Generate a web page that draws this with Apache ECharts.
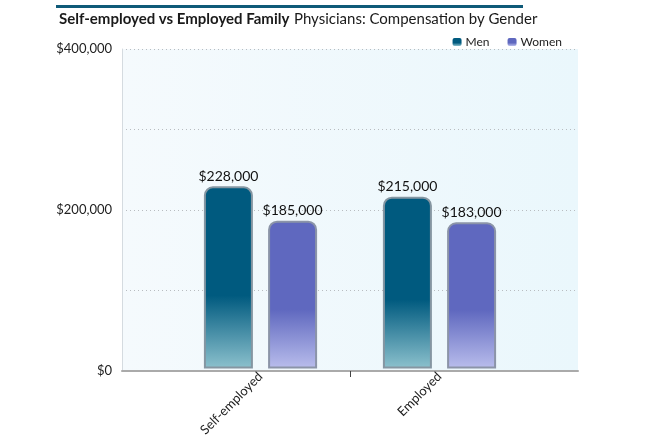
<!DOCTYPE html>
<html><head><meta charset="utf-8">
<script src="https://cdn.jsdelivr.net/npm/echarts@6/dist/echarts.min.js"></script>
<style>html,body{margin:0;padding:0;background:#fff}#c{width:645px;height:439px}</style>
</head><body><div id="c"></div>
<script>
const categories = ['Self-employed', 'Employed'];
const menValues = [228000, 215000];
const womenValues = [185000, 183000];
const yTicks = [0, 200000, 400000];
const titleBold = 'Self-employed vs Employed Family';
const titleRest = 'Physicians: Compensation by Gender';

const FONT = 'Lato';
const fmt = v => '$' + v.toLocaleString('en-US');
const chart = echarts.init(document.getElementById('c'), null, {renderer: 'canvas'});

function grad(c1, c2) {
  return new echarts.graphic.LinearGradient(0, 0, 0, 1, [
    {offset: 0, color: c1}, {offset: 0.6, color: c1}, {offset: 1, color: c2}
  ]);
}

chart.setOption({
  animation: false,
  textStyle: {fontFamily: FONT},
  title: {
    left: 59, top: 10, padding: 0,
    text: '{b|' + titleBold + '} {n|' + titleRest + '}',
    textStyle: {
      fontWeight: 'normal',
      rich: {
        b: {fontFamily: FONT, fontSize: 15, fontWeight: 'bold', color: '#1a1a1a'},
        n: {fontFamily: FONT, fontSize: 15, fontWeight: 'normal', color: '#1a1a1a'}
      }
    }
  },
  graphic: [{
    type: 'rect', left: 56, top: 5, shape: {width: 467, height: 3},
    style: {fill: '#0f5a78'}
  }],
  legend: {
    top: 31, right: 78, itemWidth: 9, itemHeight: 8, itemGap: 18,
    icon: 'roundRect',
    itemStyle: {borderWidth: 0},
    textStyle: {fontFamily: FONT, fontSize: 12, color: '#222', padding: [0, 0, 0, -1]},
    data: ['Men', 'Women']
  },
  grid: [
    {left: 122, right: 67, top: 49, bottom: 68, show: true, borderWidth: 0,
     backgroundColor: new echarts.graphic.LinearGradient(0, 0, 1, 0, [
       {offset: 0, color: '#f5fafd'}, {offset: 1, color: '#eaf7fc'}])},
    {left: 171, right: 116, top: 49, bottom: 68}
  ],
  xAxis: [
    {type: 'value', gridIndex: 0, min: 0, max: 2,
     axisLine: {show: true, lineStyle: {color: '#aaaaaa', width: 2}},
     axisTick: {show: true, customValues: [1], length: 6, lineStyle: {color: '#444'}},
     axisLabel: {show: false}, splitLine: {show: false}},
    {type: 'category', gridIndex: 1, data: categories,
     axisLine: {show: false}, axisTick: {show: false},
     axisLabel: {rotate: 45, margin: 6, fontFamily: FONT, fontSize: 13, color: '#222'}}
  ],
  yAxis: [
    {type: 'value', gridIndex: 0, min: 0, max: 400000, interval: 100000,
     axisLine: {show: true, lineStyle: {color: '#d5dbe0', width: 1}},
     axisTick: {show: false},
     axisLabel: {margin: 10, fontFamily: FONT, fontSize: 13, color: '#222',
       formatter: v => yTicks.indexOf(v) >= 0 ? fmt(v) : ''},
     splitLine: {show: true, lineStyle: {color: '#b8bcc0', type: [1, 3]}}},
    {type: 'value', gridIndex: 1, min: 0, max: 400000, interval: 100000, show: false,
     splitLine: {show: false}}
  ],
  series: [
    {name: 'Men', type: 'bar', xAxisIndex: 1, yAxisIndex: 1, data: menValues,
     barWidth: 49, barGap: '31%',
     itemStyle: {color: grad('#005a7f', '#8cc1cd'), borderColor: '#8596a2', borderWidth: 2,
       borderRadius: [8, 8, 0, 0]},
     label: {show: true, position: 'top', distance: 3, fontFamily: FONT, fontSize: 14,
       color: '#111', formatter: p => fmt(p.value)}},
    {name: 'Women', type: 'bar', xAxisIndex: 1, yAxisIndex: 1, data: womenValues,
     barWidth: 49,
     itemStyle: {color: grad('#5f68bf', '#b9bdec'), borderColor: '#8b94a8', borderWidth: 2,
       borderRadius: [8, 8, 0, 0]},
     label: {show: true, position: 'top', distance: 3, fontFamily: FONT, fontSize: 14,
       color: '#111', formatter: p => fmt(p.value)}}
  ]
});
</script></body></html>
